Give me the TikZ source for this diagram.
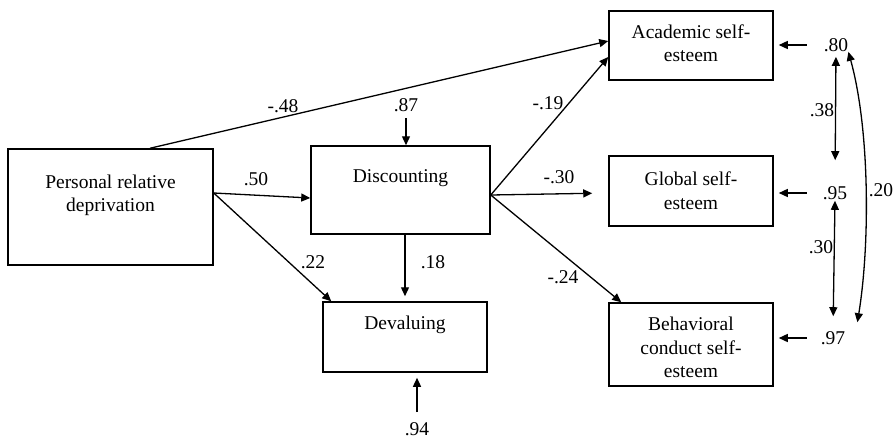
\documentclass[tikz,border=0pt]{standalone}
\usepackage{fontspec}
\setmainfont{Liberation Serif}
\usetikzlibrary{arrows.meta}

\begin{document}
\begin{tikzpicture}[x=1pt, y=-1pt,
  box/.style={draw, line width=1.5pt, inner sep=0pt},
  txt/.style={font=\fontsize{19.5}{23.5}\selectfont, align=center, inner sep=0pt},
  coef/.style={font=\fontsize{19.5}{23}\selectfont, inner sep=0pt},
  arr/.style={line width=1.3pt, -{Triangle[length=9pt,width=8pt]}},
  dbl/.style={line width=1.3pt, {Triangle[length=9pt,width=8pt]}-{Triangle[length=9pt,width=8pt]}}]

  \useasboundingbox (0,0) rectangle (895,440);

  \newcommand\RX{691}
  \newcommand\RW{164pt}

  %% predictor and mediators
  \node[box, minimum width=205pt, minimum height=116pt] (prd) at (110.5,207) {};
  \node[txt] (prdtxt) at (110.5,195.5) {Personal relative\\deprivation};

  \node[box, minimum width=179pt, minimum height=88pt] (disc) at (400.5,190) {};
  \node[txt] (disctxt) at (400.5,178) {Discounting};

  \node[box, minimum width=164pt, minimum height=70pt] (deval) at (405,337) {};
  \node[txt] (devaltxt) at (405,325) {Devaluing};

  %% outcomes
  \node[box, minimum width=\RW, minimum height=69pt] (acad) at (\RX,45.5) {};
  \node[txt] (acadtxt) at (\RX,43) {Academic self-\\esteem};

  \node[box, minimum width=\RW, minimum height=70pt] (glob) at (\RX,191) {};
  \node[txt] (globtxt) at (\RX,190.5) {Global self-\\esteem};

  \node[box, minimum width=\RW, minimum height=83pt] (behav) at (\RX,344.5) {};
  \node[txt] (behavtxt) at (\RX,347.5) {Behavioral\\conduct self-\\esteem};

  %% residuals
  \node[coef] (e87) at (406,105) {.87};
  \node[coef] (e94) at (417,429) {.94};
  \node[coef] (e80) at (836,45) {.80};
  \node[coef] (e95) at (835,193) {.95};
  \node[coef] (e97) at (833,338) {.97};

  %% paths
  \draw[arr] ([xshift=39.5pt]prd.north) -- ([yshift=4.5pt]acad.west); %% -.48
  \draw[arr] ([yshift=14pt]prd.east) -- ([yshift=-8pt]disc.west); %% .50
  \draw[arr] ([yshift=14pt]prd.east) -- ([xshift=9pt]deval.north west); %% .22
  \draw[arr, shorten <=6pt] (e87.south) -- (e87.south |- disc.north); %% .87
  \draw[arr] ([yshift=-5pt]disc.east) -- ([yshift=-11.5pt]acad.west); %% -.19
  \draw[arr, shorten >=16pt] ([yshift=-5pt]disc.east) -- ([yshift=-2pt]glob.west); %% -.30
  \draw[arr] ([yshift=-5pt]disc.east) -- ([xshift=13pt]behav.north west); %% -.24
  \draw[arr, shorten >=5pt] (disc.south -| deval.north) -- (deval.north); %% .18
  \draw[arr, shorten <=10pt, shorten >=5pt] (e94.north) -- (e94.north |- deval.south); %% .94

  \draw[arr, shorten <=17pt, shorten >=5pt] (e80.west) -- (e80.west -| acad.east);
  \draw[arr, shorten <=16pt, shorten >=5pt] (e95.west) -- (e95.west -| glob.east);
  \draw[arr, shorten <=14pt, shorten >=5pt] (e97.west) -- (e97.west -| behav.east);

  %% covariances
  \draw[dbl, shorten <=5pt, shorten >=26pt] (e80.south) -- (e95.north); %% .38
  \draw[dbl, shorten <=1pt, shorten >=15pt] (e95.south) -- (e97.north); %% .30
  \draw[dbl] (e80.south east) .. controls (870,130) and (870,245) .. ([shift={(12pt,9pt)}]e97.north east); %% .20

  %% coefficients
  \node[coef] (c48) at (283,106) {-.48};
  \node[coef] (c50) at (256,179) {.50};
  \node[coef] (c22) at (313,262) {.22};
  \node[coef] (c18) at (433,262) {.18};
  \node[coef] (c19) at (548,103) {-.19};
  \node[coef] (c30) at (559,177) {-.30};
  \node[coef] (c24) at (563,277) {-.24};
  \node[coef] (r38) at (822,110) {.38};
  \node[coef] (r30) at (821,247) {.30};
  \node[coef] (r20) at (881,190) {.20};

\end{tikzpicture}
\end{document}
